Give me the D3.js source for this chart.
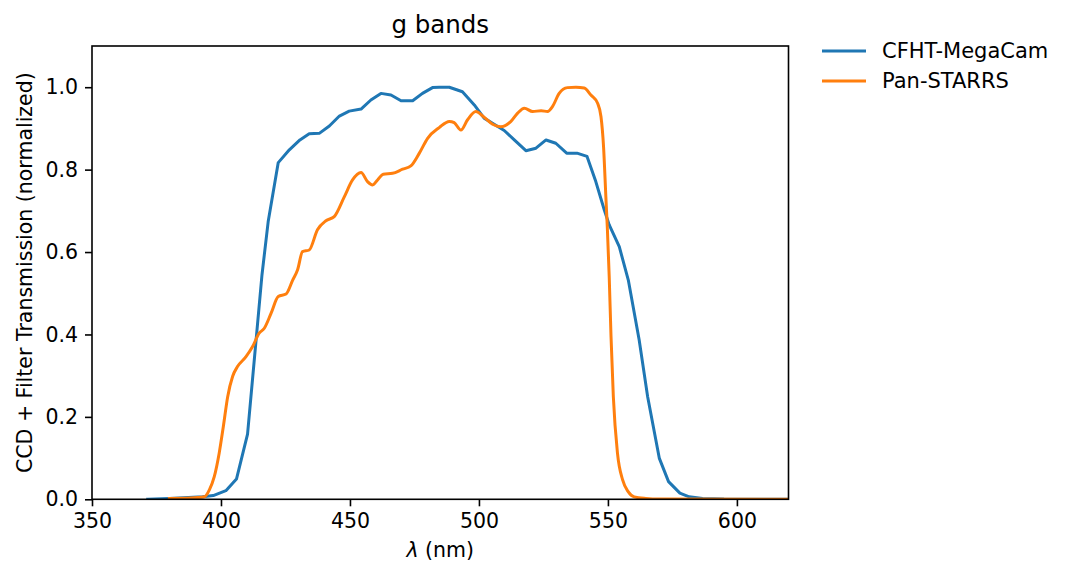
<!DOCTYPE html>
<html>
<head>
<meta charset="utf-8">
<script src="https://cdn.jsdelivr.net/npm/d3@7"></script>
<style>
  body { margin: 0; background: #fff; }
  svg { font-family: "DejaVu Sans", sans-serif; }
</style>
</head>
<body>
<div id="chart"></div>
<script>

// CFHT-MegaCam g band (coarse sampling)
const cfhtWave = [371.6, 380, 392.9, 397, 401.9, 406, 410.3, 415.9, 418.3, 422.2, 426.5, 430.6, 434.2, 438.1, 442, 445.9, 449.7, 454.3, 458.1, 462, 465.9, 469.8, 474.3, 478.1, 482, 484.6, 488.5, 493.6, 498.2, 502, 505.9, 509.8, 513.7, 518.2, 522.1, 526, 529.8, 534, 538, 541.9, 545.3, 548.6, 550.5, 554.4, 557.9, 562.1, 565.4, 569.9, 573.5, 577.9, 581.5, 586.7, 595, 620];
const cfhtTrans = [0.0, 0.002, 0.006, 0.009, 0.021, 0.049, 0.158, 0.545, 0.674, 0.817, 0.848, 0.872, 0.887, 0.888, 0.906, 0.930, 0.942, 0.947, 0.969, 0.985, 0.981, 0.967, 0.967, 0.985, 0.999, 1.0, 1.0, 0.989, 0.957, 0.925, 0.910, 0.895, 0.872, 0.846, 0.852, 0.872, 0.864, 0.840, 0.840, 0.832, 0.771, 0.702, 0.666, 0.613, 0.532, 0.387, 0.249, 0.100, 0.043, 0.015, 0.006, 0.002, 0.0005, 0.0];

// Pan-STARRS g band (fine sampling)
const psWave = [380, 388, 393.5, 395.5, 397.4, 399.3, 400.9, 402.6, 404.5, 406.4, 409.7, 412.2, 414.8, 416.8, 419.4, 422.2, 425.2, 427.8, 429.7, 431.6, 434.2, 437.4, 440.7, 443.9, 447.8, 451, 454.3, 456.8, 458.8, 460.7, 462.9, 466.5, 470.4, 473.6, 476.9, 480.1, 484.6, 488.5, 490.4, 493, 495.6, 498.8, 502, 505.3, 508.5, 512.4, 515, 517.6, 520.8, 524.1, 526.6, 528.5, 531.1, 534.3, 537.6, 540.8, 543.4, 546, 547.3, 548.3, 549.2, 549.8, 550.5, 551.2, 552.1, 553.7, 555.7, 557.9, 560.2, 564.7, 570, 620];
const psTrans = [0.002, 0.003, 0.006, 0.023, 0.055, 0.112, 0.176, 0.249, 0.298, 0.322, 0.346, 0.370, 0.403, 0.415, 0.451, 0.492, 0.498, 0.532, 0.557, 0.601, 0.605, 0.654, 0.676, 0.686, 0.734, 0.775, 0.793, 0.771, 0.763, 0.775, 0.789, 0.791, 0.801, 0.809, 0.840, 0.876, 0.902, 0.917, 0.914, 0.896, 0.921, 0.941, 0.927, 0.910, 0.904, 0.917, 0.937, 0.949, 0.941, 0.943, 0.941, 0.953, 0.985, 0.999, 1.0, 0.998, 0.981, 0.961, 0.929, 0.856, 0.734, 0.654, 0.540, 0.395, 0.249, 0.112, 0.047, 0.018, 0.006, 0.002, 0.0005, 0.0];

const seriesNames = ["CFHT-MegaCam", "Pan-STARRS"];
const xTicks = [350, 400, 450, 500, 550, 600];
const yTicks = [0.0, 0.2, 0.4, 0.6, 0.8, 1.0];

const W = 1073, H = 579;
const m = {left: 92, right: 788.5, top: 46, bottom: 499.3};

const svg = d3.select("#chart").append("svg")
    .attr("width", W)
    .attr("height", H);

const x = d3.scaleLinear().domain([350, 620]).range([m.left, m.right]);
const y = d3.scaleLinear().domain([0, 1.1]).range([m.bottom, m.top]);

const color = d3.scaleOrdinal().domain(seriesNames).range(["#1f77b4", "#ff7f0e"]);

svg.append("clipPath").attr("id", "clip")
    .append("rect")
    .attr("x", m.left).attr("y", m.top)
    .attr("width", m.right - m.left).attr("height", m.bottom - m.top);

const cfht = cfhtWave.map((w, i) => ({w: w, t: cfhtTrans[i]}));
const ps = psWave.map((w, i) => ({w: w, t: psTrans[i]}));

const lineLin = d3.line().x(d => x(d.w)).y(d => y(d.t));
const lineSmooth = d3.line().x(d => x(d.w)).y(d => y(d.t)).curve(d3.curveMonotoneX);

const plot = svg.append("g").attr("clip-path", "url(#clip)");

plot.append("path")
    .datum(cfht)
    .attr("d", lineLin)
    .attr("fill", "none")
    .attr("stroke", color("CFHT-MegaCam"))
    .attr("stroke-width", 3)
    .attr("stroke-linejoin", "round")
    .attr("stroke-linecap", "square");

plot.append("path")
    .datum(ps)
    .attr("d", lineSmooth)
    .attr("fill", "none")
    .attr("stroke", color("Pan-STARRS"))
    .attr("stroke-width", 3)
    .attr("stroke-linejoin", "round")
    .attr("stroke-linecap", "square");

// axes
const xAxis = d3.axisBottom(x).tickValues(xTicks).tickSize(7).tickPadding(7).tickFormat(d3.format("d"));
const yAxis = d3.axisLeft(y).tickValues(yTicks).tickSize(7).tickPadding(7).tickFormat(d3.format(".1f"));

const gx = svg.append("g")
    .attr("transform", `translate(0,${m.bottom})`)
    .call(xAxis);
const gy = svg.append("g")
    .attr("transform", `translate(${m.left},0)`)
    .call(yAxis);

[gx, gy].forEach(g => {
    g.select(".domain").remove();
    g.selectAll(".tick line").attr("stroke", "#000").attr("stroke-width", 1.6);
    g.selectAll(".tick text")
        .attr("fill", "#000")
        .style("font-size", "20.5px")
        .style("font-family", "DejaVu Sans");
});
gx.selectAll(".tick text").attr("dy", "0.74em");

// frame
svg.append("rect")
    .attr("x", m.left).attr("y", m.top)
    .attr("width", m.right - m.left).attr("height", m.bottom - m.top)
    .attr("fill", "none")
    .attr("stroke", "#000")
    .attr("stroke-width", 1.6);

// title
svg.append("text")
    .attr("x", (m.left + m.right) / 2)
    .attr("y", 33)
    .attr("text-anchor", "middle")
    .style("font-size", "24.5px")
    .text("g bands");

// x label
const xl = svg.append("text")
    .attr("x", (m.left + m.right) / 2)
    .attr("y", 557)
    .attr("text-anchor", "middle")
    .style("font-size", "20.5px");
xl.append("tspan").style("font-style", "italic").text("λ");
xl.append("tspan").text(" (nm)");

// y label
svg.append("text")
    .attr("transform", `translate(32,${(m.top + m.bottom) / 2}) rotate(-90)`)
    .attr("text-anchor", "middle")
    .style("font-size", "20.5px")
    .text("CCD + Filter Transmission (normalized)");

// legend
const legend = svg.append("g");
seriesNames.forEach((name, i) => {
    const ly = 51 + i * 30;
    legend.append("line")
        .attr("x1", 822).attr("x2", 866)
        .attr("y1", ly).attr("y2", ly)
        .attr("stroke", color(name))
        .attr("stroke-width", 3);
    legend.append("text")
        .attr("x", 882)
        .attr("y", ly + 7)
        .style("font-size", "21px")
        .text(name);
});

</script>
</body>
</html>
